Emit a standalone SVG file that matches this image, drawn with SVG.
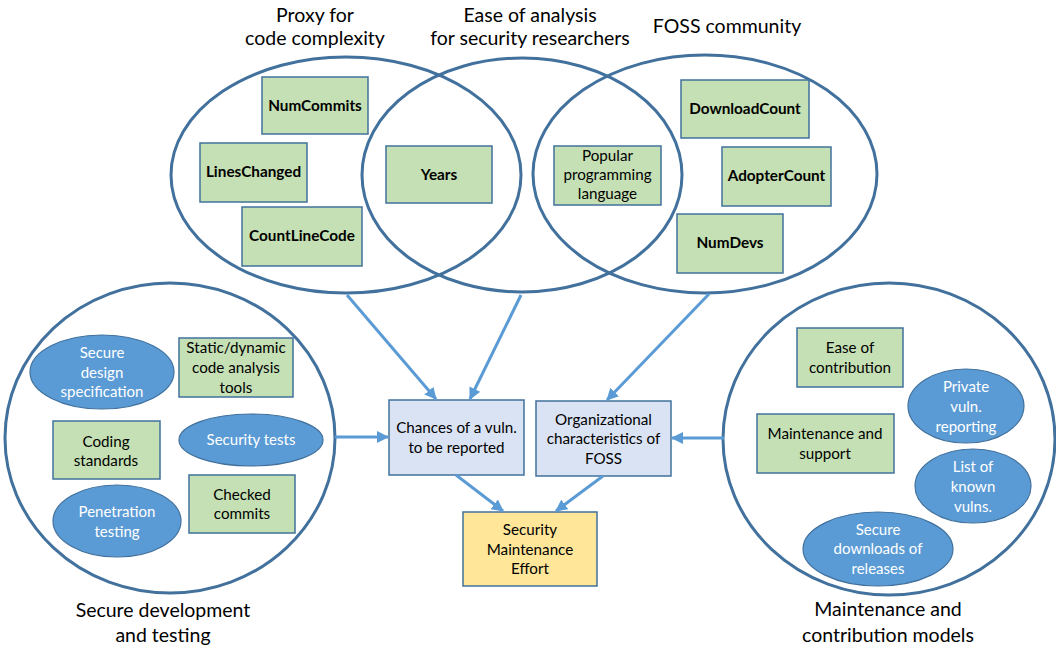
<svg xmlns="http://www.w3.org/2000/svg" width="1056" height="650" viewBox="0 0 1056 650">
  <style>
    text { font-family: Lato, "Open Sans", "Liberation Sans", sans-serif; fill: #000; text-anchor: middle; }
    .title { font-size: 19.5px; }
    .lbl { font-size: 15.2px; }
    .bold { font-size: 15.3px; font-weight: bold; }
    .wlbl { font-size: 15px; fill: #fff; }
    .group { fill: none; stroke: #41719C; stroke-width: 3; }
    .box { fill: #C5E0B4; stroke: #41719C; stroke-width: 1.5; }
    .oval { fill: #5B9BD5; stroke: #41719C; stroke-width: 1.2; }
    .core { fill: #DAE3F3; stroke: #41719C; stroke-width: 1.5; }
    .goal { fill: #FFE699; stroke: #41719C; stroke-width: 1.5; }
    .conn { fill: none; stroke: #5B9BD5; stroke-width: 3; marker-end: url(#arrow); }
  </style>
  <defs>
    <marker id="arrow" markerUnits="userSpaceOnUse" markerWidth="12" markerHeight="12" viewBox="0 0 12 12" refX="11" refY="6" orient="auto">
      <path d="M0,0 L12,6 L0,12 z" fill="#5B9BD5"/>
    </marker>
  </defs>

  <!-- group outlines -->
  <g id="proxy-code-complexity">
    <ellipse class="group" cx="346" cy="175" rx="175" ry="118"/>
    <text class="title" x="315" y="22">Proxy for</text>
    <text class="title" x="315" y="45">code complexity</text>
  </g>
  <g id="ease-of-analysis">
    <ellipse class="group" cx="522" cy="175" rx="160" ry="117"/>
    <text class="title" x="530" y="22">Ease of analysis</text>
    <text class="title" x="530" y="45">for security researchers</text>
  </g>
  <g id="foss-community">
    <ellipse class="group" cx="705" cy="174" rx="172" ry="119"/>
    <text class="title" x="727" y="33">FOSS community</text>
  </g>
  <g id="secure-development">
    <ellipse class="group" cx="170" cy="438" rx="165" ry="155"/>
    <text class="title" x="163" y="617">Secure development</text>
    <text class="title" x="163" y="642">and testing</text>
  </g>
  <g id="maintenance-models">
    <ellipse class="group" cx="889" cy="439" rx="166" ry="156"/>
    <text class="title" x="888" y="616">Maintenance and</text>
    <text class="title" x="888" y="642">contribution models</text>
  </g>

  <!-- metrics -->
  <g id="num-commits"><rect class="box" x="262" y="77" width="106" height="57"/><text class="bold" x="315" y="111">NumCommits</text></g>
  <g id="lines-changed"><rect class="box" x="200" y="143" width="107" height="59"/><text class="bold" x="253.5" y="177">LinesChanged</text></g>
  <g id="count-line-code"><rect class="box" x="242" y="207" width="120" height="59"/><text class="bold" x="302" y="241">CountLineCode</text></g>
  <g id="years"><rect class="box" x="386" y="146" width="106" height="57"/><text class="bold" x="439" y="180">Years</text></g>
  <g id="popular-language"><rect class="box" x="554" y="146" width="107" height="59"/>
    <text class="lbl" x="607.5" y="161">Popular</text>
    <text class="lbl" x="607.5" y="180">programming</text>
    <text class="lbl" x="607.5" y="199">language</text>
  </g>
  <g id="download-count"><rect class="box" x="681" y="80" width="128" height="58"/><text class="bold" x="745" y="114">DownloadCount</text></g>
  <g id="adopter-count"><rect class="box" x="722" y="147" width="109" height="59"/><text class="bold" x="776.5" y="181">AdopterCount</text></g>
  <g id="num-devs"><rect class="box" x="677" y="214" width="106" height="59"/><text class="bold" x="730" y="248">NumDevs</text></g>

  <!-- secure development and testing -->
  <g id="secure-design"><ellipse class="oval" cx="102" cy="372" rx="72" ry="37"/>
    <text class="wlbl" x="102" y="358">Secure</text>
    <text class="wlbl" x="102" y="378">design</text>
    <text class="wlbl" x="102" y="397">specification</text>
  </g>
  <g id="analysis-tools"><rect class="box" x="179" y="338" width="114" height="59"/>
    <text class="lbl" x="236" y="353">Static/dynamic</text>
    <text class="lbl" x="236" y="373">code analysis</text>
    <text class="lbl" x="236" y="393">tools</text>
  </g>
  <g id="coding-standards"><rect class="box" x="53" y="421" width="107" height="58"/>
    <text class="lbl" x="106" y="447">Coding</text>
    <text class="lbl" x="106" y="466">standards</text>
  </g>
  <g id="security-tests"><ellipse class="oval" cx="251" cy="440" rx="72" ry="26"/>
    <text class="wlbl" x="251" y="445">Security tests</text>
  </g>
  <g id="penetration-testing"><ellipse class="oval" cx="117" cy="521" rx="64" ry="36"/>
    <text class="wlbl" x="117" y="517">Penetration</text>
    <text class="wlbl" x="117" y="537">testing</text>
  </g>
  <g id="checked-commits"><rect class="box" x="189" y="475" width="106" height="58"/>
    <text class="lbl" x="242" y="500">Checked</text>
    <text class="lbl" x="242" y="519">commits</text>
  </g>

  <!-- maintenance and contribution models -->
  <g id="ease-of-contribution"><rect class="box" x="797" y="328" width="106" height="59"/>
    <text class="lbl" x="850" y="353">Ease of</text>
    <text class="lbl" x="850" y="373">contribution</text>
  </g>
  <g id="private-reporting"><ellipse class="oval" cx="966" cy="406" rx="58" ry="37"/>
    <text class="wlbl" x="966" y="392">Private</text>
    <text class="wlbl" x="966" y="412">vuln.</text>
    <text class="wlbl" x="966" y="432">reporting</text>
  </g>
  <g id="maintenance-support"><rect class="box" x="757" y="414" width="137" height="59"/>
    <text class="lbl" x="825" y="439">Maintenance and</text>
    <text class="lbl" x="825" y="459">support</text>
  </g>
  <g id="known-vulns"><ellipse class="oval" cx="973" cy="486" rx="58" ry="37"/>
    <text class="wlbl" x="973" y="472">List of</text>
    <text class="wlbl" x="973" y="492">known</text>
    <text class="wlbl" x="973" y="512">vulns.</text>
  </g>
  <g id="secure-downloads"><ellipse class="oval" cx="878" cy="549" rx="75" ry="37"/>
    <text class="wlbl" x="878" y="535">Secure</text>
    <text class="wlbl" x="878" y="554">downloads of</text>
    <text class="wlbl" x="878" y="574">releases</text>
  </g>

  <!-- central factors -->
  <g id="chances-reported"><rect class="core" x="389" y="400" width="135" height="75"/>
    <text class="lbl" x="456.5" y="433">Chances of a vuln.</text>
    <text class="lbl" x="456.5" y="453">to be reported</text>
  </g>
  <g id="organizational"><rect class="core" x="536" y="401" width="135" height="75"/>
    <text class="lbl" x="603.5" y="425">Organizational</text>
    <text class="lbl" x="603.5" y="444">characteristics of</text>
    <text class="lbl" x="603.5" y="464">FOSS</text>
  </g>
  <g id="maintenance-effort"><rect class="goal" x="463" y="512" width="134" height="74"/>
    <text class="lbl" x="530" y="535">Security</text>
    <text class="lbl" x="530" y="555">Maintenance</text>
    <text class="lbl" x="530" y="574">Effort</text>
  </g>

  <!-- connectors -->
  <g id="connectors">
    <line class="conn" x1="347" y1="295" x2="436" y2="399"/>
    <line class="conn" x1="521" y1="295" x2="470" y2="399"/>
    <line class="conn" x1="709" y1="294" x2="607" y2="400"/>
    <line class="conn" x1="335" y1="437" x2="388" y2="437"/>
    <line class="conn" x1="724" y1="438" x2="672" y2="438"/>
    <line class="conn" x1="456" y1="475" x2="503" y2="511"/>
    <line class="conn" x1="603" y1="476" x2="556" y2="511"/>
  </g>
</svg>
